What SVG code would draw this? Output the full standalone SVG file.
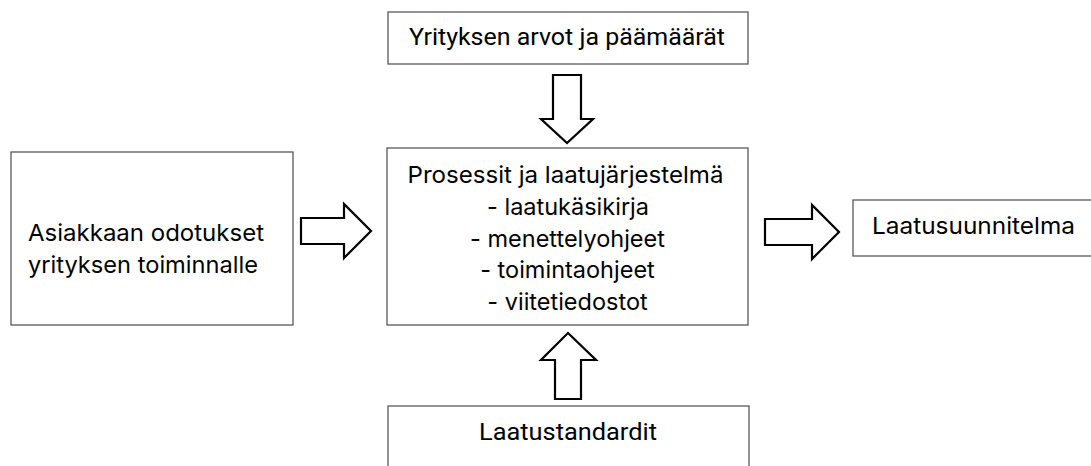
<svg xmlns="http://www.w3.org/2000/svg" width="1091" height="466" viewBox="0 0 1091 466">
<style>
.box{fill:#fff;stroke:#595959;stroke-width:1.3}
.arr{fill:#fff;stroke:#000;stroke-width:2.2;stroke-linejoin:miter}
.t1{font-family:Roboto,"Liberation Sans",sans-serif;font-size:24.5px;fill:#000}
.t2{font-family:Inter,"Open Sans",sans-serif;font-size:23.5px;fill:#000}
</style>
<rect x="0" y="0" width="1091" height="466" fill="#fff"/>
<g id="node-top">
<rect class="box" x="388" y="12" width="360" height="52"/>
<text class="t1" x="567" y="45" text-anchor="middle" textLength="316" lengthAdjust="spacingAndGlyphs">Yrityksen arvot ja päämäärät</text>
</g>
<g id="node-left">
<rect class="box" x="11" y="152" width="282" height="173"/>
<text class="t2" x="28" y="241" textLength="236" lengthAdjust="spacingAndGlyphs">Asiakkaan odotukset</text>
<text class="t2" x="28" y="273" textLength="230" lengthAdjust="spacingAndGlyphs">yrityksen toiminnalle</text>
</g>
<g id="node-center">
<rect class="box" x="387" y="148" width="361" height="177"/>
<text class="t2" x="565.5" y="183" text-anchor="middle" textLength="316" lengthAdjust="spacingAndGlyphs">Prosessit ja laatujärjestelmä</text>
<text class="t2" x="568" y="215" text-anchor="middle">- laatukäsikirja</text>
<text class="t2" x="567.5" y="247" text-anchor="middle">- menettelyohjeet</text>
<text class="t2" x="567.5" y="278" text-anchor="middle">- toimintaohjeet</text>
<text class="t2" x="567.5" y="310" text-anchor="middle">- viitetiedostot</text>
</g>
<g id="node-right">
<rect class="box" x="853" y="200" width="260" height="56"/>
<text class="t2" x="872" y="234" textLength="203" lengthAdjust="spacingAndGlyphs">Laatusuunnitelma</text>
</g>
<g id="node-bottom">
<rect class="box" x="388" y="406" width="361" height="80"/>
<text class="t1" x="568" y="440" text-anchor="middle" textLength="178" lengthAdjust="spacingAndGlyphs">Laatustandardit</text>
</g>
<g id="connectors">
<polygon class="arr" points="553,75 581,75 581,119 593,119 567,143 541,119 553,119"/>
<polygon class="arr" points="301,218 344,218 344,204 371,231 344,258 344,244 301,244"/>
<polygon class="arr" points="765,219 812,219 812,205 839,232 812,259 812,245 765,245"/>
<polygon class="arr" points="555,399 555,360 541,360 568,333 596,360 581,360 581,399"/>
</g>
</svg>
